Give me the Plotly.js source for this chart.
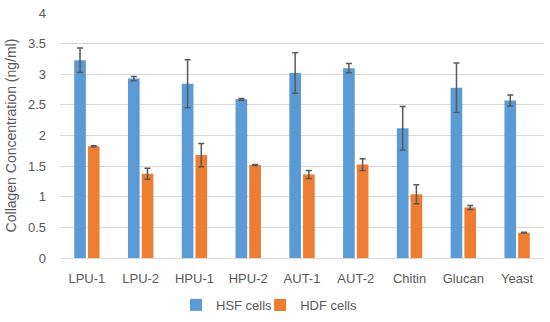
<!DOCTYPE html>
<html>
<head>
<meta charset="utf-8">
<script src="https://cdn.plot.ly/plotly-3.0.1.min.js"></script>
<style>html,body{margin:0;padding:0;background:#fff;}#chart{width:550px;height:322px;}</style>
</head>
<body>
<div id="chart"></div>
<script>
const categories = ["LPU-1","LPU-2","HPU-1","HPU-2","AUT-1","AUT-2","Chitin","Glucan","Yeast"];
const hsfValues = [3.23, 2.93, 2.845, 2.59, 3.02, 3.10, 2.12, 2.78, 2.57];
const hsfErrors = [0.20, 0.035, 0.39, 0.015, 0.33, 0.075, 0.355, 0.405, 0.09];
const hdfValues = [1.825, 1.375, 1.68, 1.52, 1.365, 1.525, 1.04, 0.826, 0.414];
const hdfErrors = [0.008, 0.09, 0.19, 0.008, 0.065, 0.095, 0.155, 0.033, 0.005];
const yTicks = [0, 0.5, 1, 1.5, 2, 2.5, 3, 3.5, 4];
const yTickText = ["0","0.5","1","1.5","2","2.5","3","3.5","4"];

const errStyle = {type:'data', visible:true, color:'#595959', thickness:1.5, width:3};
const traces = [
  {type:'bar', name:'HSF cells', x:categories, y:hsfValues, legend:'legend',
   marker:{color:'#5B9BD5'}, error_y:Object.assign({array:hsfErrors}, errStyle)},
  {type:'bar', name:'HDF cells', x:categories, y:hdfValues, legend:'legend2',
   marker:{color:'#ED7D31'}, error_y:Object.assign({array:hdfErrors}, errStyle)}
];
const legendCommon = {orientation:'h', xref:'container', yref:'container', y:0.053, yanchor:'middle', xanchor:'left',
          font:{size:13, color:'#595959'}, itemwidth:30, bgcolor:'rgba(0,0,0,0)'};
const layout = {
  width:550, height:322,
  margin:{l:60, r:6, t:9.5, b:64},
  paper_bgcolor:'#fff', plot_bgcolor:'#fff',
  font:{family:'Liberation Sans, Arial, sans-serif', size:13, color:'#595959'},
  barmode:'group', bargap:0.49, bargroupgap:0.15,
  showlegend:true,
  legend:Object.assign({x:0.32}, legendCommon),
  legend2:Object.assign({x:0.473}, legendCommon),
  xaxis:{showgrid:false, showline:false, ticks:'', tickfont:{size:13}, automargin:false, ticklabelstandoff:11},
  yaxis:{range:[0,4], tickvals:yTicks, ticktext:yTickText, showgrid:true, gridcolor:'#D9D9D9', gridwidth:1,
         zeroline:true, zerolinecolor:'#D9D9D9', zerolinewidth:1, showline:false, ticks:'', ticklabelstandoff:13,
         tickfont:{size:13}, automargin:true,
         title:{text:'Collagen Concentration (ng/ml)', font:{size:14, color:'#595959'}, standoff:8}}
};
Plotly.newPlot('chart', traces, layout, {displayModeBar:false, staticPlot:true});
</script>
</body>
</html>
